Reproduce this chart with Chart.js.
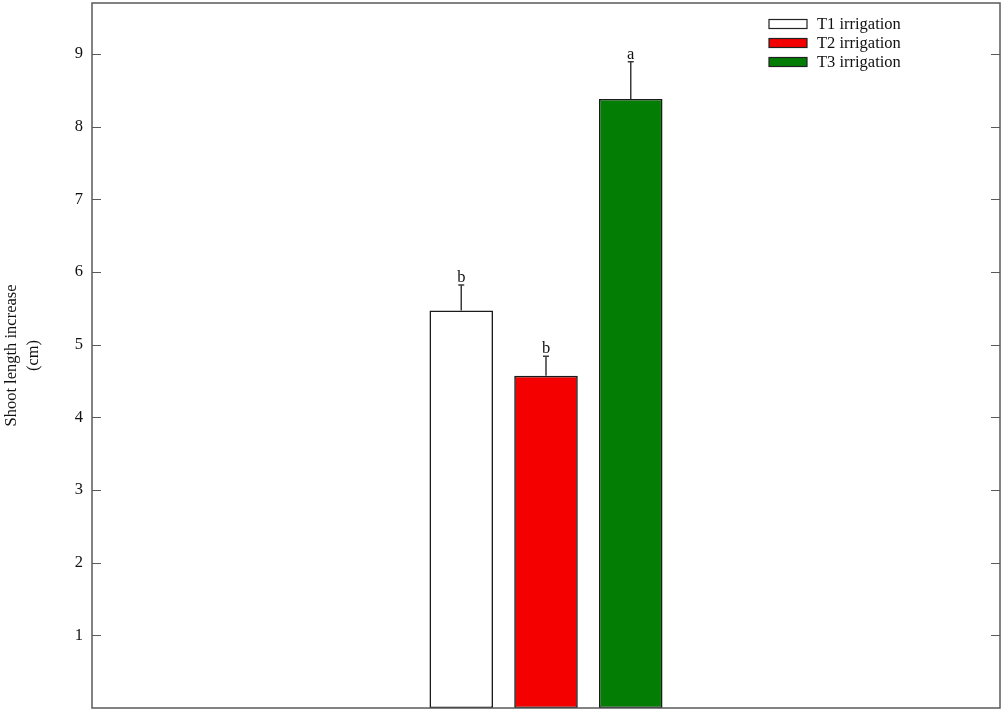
<!DOCTYPE html>
<html>
<head>
<meta charset="utf-8">
<script src="https://cdn.jsdelivr.net/npm/chart.js@4/dist/chart.umd.min.js"></script>
<style>
  html, body { margin: 0; padding: 0; background: #ffffff; }
  #wrap { width: 1004px; height: 712px; }
</style>
</head>
<body>
<div id="wrap"><canvas id="chart"></canvas></div>
<script>
// Chart data
const groups = [""];
const seriesNames = ["T1 irrigation", "T2 irrigation", "T3 irrigation"];
const meanValues = [5.47, 4.57, 8.38];
const errorValues = [0.35, 0.27, 0.51];
const letters = ["b", "b", "a"];
const yTicks = [1, 2, 3, 4, 5, 6, 7, 8, 9];
const yMax = 9.7;

const fillColors = ["#ffffff", "#f50000", "#037d03"];
const serif = "'Liberation Serif', 'DejaVu Serif', serif";

// Frame, inward ticks, error bars, letters and legend
const decorPlugin = {
    id: "decor",
    afterDatasetsDraw(chart) {
        const ctx = chart.ctx;
        const area = chart.chartArea;
        const y = chart.scales.y;

        ctx.save();
        // frame
        ctx.strokeStyle = "#5a5a5a";
        ctx.lineWidth = 1.5;
        ctx.strokeRect(area.left, area.top, area.right - area.left, area.bottom - area.top);

        // tick marks pointing inward on both sides
        ctx.lineWidth = 1.2;
        yTicks.forEach((t) => {
            const py = Math.round(y.getPixelForValue(t)) + 0.5;
            ctx.beginPath();
            ctx.moveTo(area.left, py);
            ctx.lineTo(area.left + 9, py);
            ctx.moveTo(area.right, py);
            ctx.lineTo(area.right - 9, py);
            ctx.stroke();
        });

        // error bars (upper only) and significance letters
        ctx.strokeStyle = "#3a3a3a";
        ctx.fillStyle = "#111111";
        ctx.lineWidth = 1.5;
        ctx.font = "16.5px " + serif;
        ctx.textAlign = "center";
        ctx.textBaseline = "alphabetic";
        chart.data.datasets.forEach((ds, i) => {
            const bar = chart.getDatasetMeta(i).data[0];
            const top = y.getPixelForValue(meanValues[i]);
            const tip = y.getPixelForValue(meanValues[i] + errorValues[i]);
            ctx.beginPath();
            ctx.moveTo(bar.x, top);
            ctx.lineTo(bar.x, tip);
            ctx.moveTo(bar.x - 3, tip);
            ctx.lineTo(bar.x + 3, tip);
            ctx.stroke();
            ctx.fillText(letters[i], bar.x, tip - 3);
        });

        // legend
        ctx.textAlign = "left";
        ctx.textBaseline = "middle";
        seriesNames.forEach((name, i) => {
            const cy = 24 + i * 19;
            ctx.fillStyle = fillColors[i];
            ctx.fillRect(769, cy - 4.5, 38, 9);
            ctx.strokeStyle = "#222222";
            ctx.lineWidth = 1.2;
            ctx.strokeRect(769, cy - 4.5, 38, 9);
            ctx.fillStyle = "#111111";
            ctx.fillText(name, 817, cy + 1);
        });
        ctx.restore();
    },
};

const ctx = document.getElementById("chart").getContext("2d");
new Chart(ctx, {
    type: "bar",
    data: {
        labels: groups,
        datasets: seriesNames.map((name, i) => ({
            label: name,
            data: [meanValues[i]],
            backgroundColor: fillColors[i],
            borderColor: "#1a1a1a",
            borderWidth: 1.6,
            borderSkipped: false,
            categoryPercentage: 0.28,
            barPercentage: 0.75,
        })),
    },
    options: {
        responsive: true,
        maintainAspectRatio: false,
        animation: false,
        layout: { padding: { left: 0, right: 4, top: 3, bottom: 4 } },
        plugins: {
            legend: { display: false },
            tooltip: { enabled: false },
        },
        scales: {
            x: {
                display: false,
            },
            y: {
                min: 0,
                max: yMax,
                afterFit: (scale) => {
                    scale.width = 92;
                    scale.paddingTop = 0;
                    scale.paddingBottom = 0;
                },
                border: { display: false },
                grid: { display: false, drawTicks: false },
                afterBuildTicks: (scale) => {
                    scale.ticks = yTicks.map((v) => ({ value: v }));
                },
                ticks: {
                    padding: 9,
                    color: "#111111",
                    font: { family: serif, size: 16.5 },
                },
                title: {
                    display: true,
                    text: ["Shoot length increase", "(cm)"],
                    color: "#111111",
                    padding: { top: 1, bottom: 0 },
                    font: { family: serif, size: 16.5, lineHeight: 1.33 },
                },
            },
        },
    },
    plugins: [decorPlugin],
});
</script>
</body>
</html>
